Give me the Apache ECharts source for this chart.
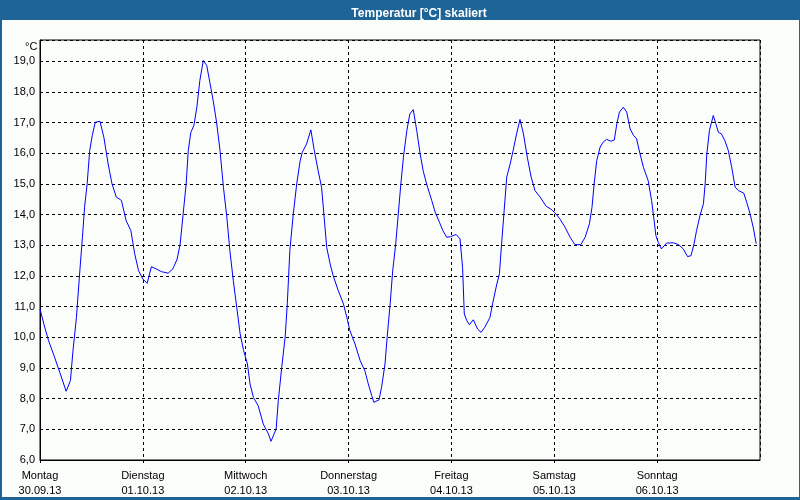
<!DOCTYPE html>
<html>
<head>
<meta charset="utf-8">
<script src="https://cdn.jsdelivr.net/npm/echarts@6/dist/echarts.min.js"></script>
<style>
html,body{margin:0;padding:0;background:#fbfdfb;}
#chart{width:800px;height:500px;}
</style>
</head>
<body>
<div id="chart"></div>
<script>
// ---- data ----
const chartTitle = 'Temperatur [°C] skaliert';
const unitLabel = '°C';
const dayNames = ['Montag','Dienstag','Mittwoch','Donnerstag','Freitag','Samstag','Sonntag'];
const dayDates = ['30.09.13','01.10.13','02.10.13','03.10.13','04.10.13','05.10.13','06.10.13'];
// hours since Monday 00:00
const hours = [
  0,1.1,2,3.4,4.6,6.1,7.1,7.7,8.5,9.3,9.9,10.4,11,11.6,12.2,12.9,14,14.9,15.9,16.8,17.8,19,20.1,21.2,22.1,23,
  24,25,26,27.1,28.3,29.9,31,32,32.7,33.4,34.1,34.6,35.2,35.9,36.6,37.3,38.1,38.9,39.7,40.4,41.2,42,42.8,43.6,44.3,45.1,45.9,46.7,47.5,
  48.4,49,49.8,50.9,52.1,53.3,53.9,55.1,55.6,56.4,57.2,57.7,58.3,59.1,59.9,60.7,61.2,62.2,63.2,64,64.9,65.7,66.3,66.9,67.7,68.4,69.6,70.8,71.6,
  72.3,73.5,74.7,75.8,76.6,77.4,77.9,79.1,79.7,80.5,81,81.7,82.3,83,83.6,84.2,84.8,85.6,86.3,87.1,87.9,88.7,89.4,90.2,91.4,92.2,93.2,94,94.9,95.8,
  97.1,98,98.6,99,99.6,100.2,101.1,102.1,102.9,103.8,105,105.6,106.6,107.2,107.7,108.3,108.9,109.7,110.4,111.2,112,112.8,113.7,114.6,115.5,116.7,118.1,119.2,
  120.2,121.3,122.5,123.7,124.8,126.2,127.2,128.2,128.8,129.3,129.9,130.7,131.4,132.2,133.2,134,134.6,135.2,136.1,136.9,137.7,138.5,139.2,140,140.8,141.9,142.7,143.3,143.7,
  144.3,145,146.2,147.8,149,150.1,151.1,151.9,152.6,153.2,154,154.8,155.2,155.6,156.2,157.1,157.7,158.3,159,159.8,160.6,161.4,162.2,163,164.2,164.9,165.7,166.5,167.1
];
const temps = [
  10.92,10.33,9.89,9.35,8.86,8.24,8.59,9.57,10.65,12.17,13.26,14.24,15.0,16.09,16.58,17.01,17.04,16.52,15.65,15.0,14.57,14.46,13.8,13.48,12.72,12.17,
  11.9,11.76,12.3,12.23,12.14,12.09,12.23,12.55,13.04,14.02,15.0,16.09,16.68,16.9,17.5,18.37,19.02,18.86,18.26,17.72,17.01,16.09,14.89,13.91,12.83,11.85,10.98,10.11,9.57,
  9.13,8.48,8.04,7.77,7.17,6.85,6.61,7.01,7.93,9.02,10.0,11.09,12.83,14.02,15.0,15.75,16.03,16.3,16.76,16.09,15.43,14.89,13.91,12.93,12.39,12.01,11.52,11.09,10.65,
  10.22,9.78,9.24,8.91,8.48,8.1,7.88,7.96,8.37,9.13,10.0,11.09,12.17,13.04,14.02,15.0,15.87,16.74,17.28,17.42,16.74,15.98,15.43,15.0,14.46,14.08,13.75,13.48,13.26,13.28,
  13.35,13.21,12.28,10.76,10.54,10.41,10.57,10.27,10.16,10.33,10.65,11.09,11.74,12.07,13.04,14.13,15.22,15.65,16.09,16.63,17.1,16.63,15.87,15.22,14.78,14.57,14.27,14.18,
  14.05,13.86,13.59,13.26,13.02,13.02,13.26,13.7,14.24,15.0,15.76,16.2,16.36,16.45,16.39,16.43,16.96,17.34,17.5,17.34,16.79,16.58,16.47,15.98,15.54,15.11,14.46,13.8,13.32,
  13.08,12.88,13.07,13.08,13.02,12.88,12.63,12.66,13.04,13.48,13.97,14.35,15.0,15.98,16.74,17.23,16.96,16.68,16.63,16.41,16.09,15.54,14.89,14.78,14.7,14.4,14.02,13.53,13.05
];

const seriesData = hours.map((h, i) => [h, temps[i]]);
const chart = echarts.init(document.getElementById('chart'), null, {renderer: 'canvas'});
const FONT = '"Liberation Sans", Arial, sans-serif';
const BLUE = '#1f6496';

chart.setOption({
  backgroundColor: '#fbfdfb',
  animation: false,
  title: {
    text: chartTitle,
    left: 414, top: 3, textAlign: 'center',
    textStyle: {color: '#ffffff', fontFamily: FONT, fontSize: 12, fontWeight: 'bold'}
  },
  graphic: [
    {type: 'rect', z: -1, shape: {x: 0, y: 0, width: 800, height: 20}, style: {fill: BLUE}},
    {type: 'rect', z: 100, shape: {x: 0, y: 0, width: 2, height: 500}, style: {fill: BLUE}},
    {type: 'rect', z: 100, shape: {x: 799, y: 0, width: 1, height: 500}, style: {fill: BLUE}},
    {type: 'rect', z: 100, shape: {x: 0, y: 497, width: 800, height: 3}, style: {fill: BLUE}},
    {type: 'text', left: 25, top: 41, style: {text: unitLabel, fill: '#000', font: '11px ' + FONT}}
  ],
  grid: {
    left: 40, right: 40, top: 40, bottom: 40,
    show: true, borderColor: '#000', borderWidth: 1, backgroundColor: 'transparent'
  },
  xAxis: {
    type: 'value', min: 0, max: 168, interval: 24,
    axisLine: {show: true, lineStyle: {color: '#000', width: 1}},
    axisTick: {show: true, length: 3, lineStyle: {color: '#000', type: 'dashed'}},
    splitLine: {show: true, lineStyle: {color: '#000', type: [3, 3], width: 1}},
    axisLabel: {
      showMaxLabel: false,
      margin: 8,
      color: '#000', fontFamily: FONT, fontSize: 11, lineHeight: 15,
      formatter: function (v) {
        const i = Math.round(v / 24);
        if (i < 0 || i >= dayNames.length) return '';
        return dayNames[i] + '\n' + dayDates[i];
      }
    }
  },
  yAxis: {
    type: 'value', min: 6, max: 19.69, interval: 1,
    axisLine: {show: true, lineStyle: {color: '#000', width: 1}},
    axisTick: {show: false},
    splitLine: {show: true, lineStyle: {color: '#000', type: [3, 3], width: 1}},
    axisLabel: {
      margin: 5, color: '#000', fontFamily: FONT, fontSize: 11,
      formatter: function (v) {
        if (Math.abs(v - Math.round(v)) > 1e-6) return '';
        return v.toFixed(1).replace('.', ',');
      }
    }
  },
  series: [{
    type: 'line',
    data: seriesData,
    showSymbol: false,
    smooth: false,
    lineStyle: {color: '#0000ff', width: 1},
    z: 5
  }]
});
</script>
</body>
</html>
